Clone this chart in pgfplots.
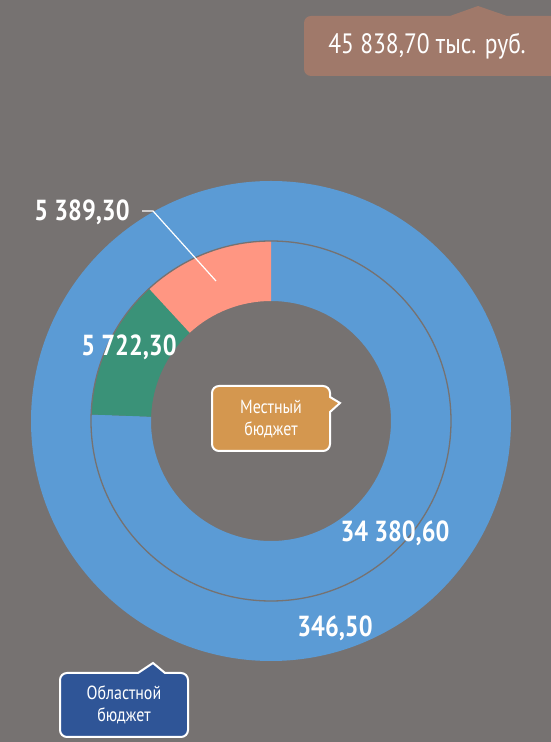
\documentclass[border=0pt]{standalone}
\usepackage{pgfplots}
\pgfplotsset{compat=1.18}
\usepackage{pgfplotstable}
\usepackage{fontspec}
\setmainfont{PT Sans}[FakeStretch=0.84]
\definecolor{bg}{HTML}{767271}
\definecolor{cblue}{HTML}{5B9BD5}
\definecolor{cgreen}{HTML}{3A9278}
\definecolor{csalmon}{HTML}{FF9682}
\definecolor{corange}{HTML}{D4974F}
\definecolor{cdblue}{HTML}{2F5597}
\definecolor{cbrown}{HTML}{A0796A}
\pgfplotstableread{
part value
1 34380.6
2 5722.3
3 5389.3
}\innerring
\pgfplotstableread{
part value
1 346.5
}\outerring
\newcommand{\lbl}[3]{%
  \node[text=white,font=\bfseries\fontsize{29}{31}\selectfont,inner sep=0pt] at (axis cs:#1,#2) {#3};}
\begin{document}
\begin{tikzpicture}
\pgfplotstablegetelem{0}{value}\of\innerring \let\va\pgfplotsretval
\pgfplotstablegetelem{1}{value}\of\innerring \let\vb\pgfplotsretval
\pgfplotstablegetelem{2}{value}\of\innerring \let\vc\pgfplotsretval
\pgfkeys{/pgf/fpu=true,/pgf/fpu/output format=fixed}
\pgfmathsetmacro{\tot}{\va+\vb+\vc}
\pgfmathsetmacro{\aa}{90}
\pgfmathsetmacro{\ab}{\aa-\va/\tot*360}
\pgfmathsetmacro{\ac}{\ab-\vb/\tot*360}
\pgfmathsetmacro{\ad}{\ac-\vc/\tot*360}
\pgfkeys{/pgf/fpu=false}
\begin{axis}[width=551pt,height=742pt,scale only axis,
  xmin=0,xmax=551,ymin=0,ymax=742,hide axis,clip=false]
\fill[bg] (axis cs:0,0) rectangle (axis cs:551,742);
\begin{scope}[shift={(axis cs:271,321)}]
  % outer ring (single value -> full circle)
  \fill[cblue,even odd rule] (0,0) circle[radius=240pt] (0,0) circle[radius=180pt];
  % inner ring
  \fill[cblue] (\aa:180pt) arc[start angle=\aa,end angle=\ab,radius=180pt] -- (\ab:120pt) arc[start angle=\ab,end angle=\aa,radius=120pt] -- cycle;
  \fill[cgreen] (\ab:180pt) arc[start angle=\ab,end angle=\ac,radius=180pt] -- (\ac:120pt) arc[start angle=\ac,end angle=\ab,radius=120pt] -- cycle;
  \fill[csalmon] (\ac:180pt) arc[start angle=\ac,end angle=\ad,radius=180pt] -- (\ad:120pt) arc[start angle=\ad,end angle=\ac,radius=120pt] -- cycle;
  \draw[bg,line width=1.3pt] (0,0) circle[radius=180pt];
\end{scope}
% leader line
\draw[white,line width=1.2pt] (axis cs:142,531) -- (axis cs:153,531) -- (axis cs:216,461);
% value labels
\lbl{82}{530}{5 389,30}
\lbl{129}{395}{5 722,30}
\lbl{395}{209}{34 380,60}
\lbl{335}{114}{346,50}
% callout: Местный бюджет
\draw[white,line width=2pt,fill=corange,rounded corners=7pt]
  (axis cs:330,330) -- (axis cs:330,291) -- (axis cs:212,291) -- (axis cs:212,356) -- (axis cs:330,356) [sharp corners] -- (axis cs:330,345) -- (axis cs:340,339) -- cycle;
\node[white,font=\fontsize{19}{22}\selectfont,align=center] at (axis cs:271,323) {Местный\\бюджет};
% callout: Областной бюджет
\draw[white,line width=2pt,fill=cdblue,rounded corners=7pt]
  (axis cs:165,69) -- (axis cs:188,69) -- (axis cs:188,5) -- (axis cs:60,5) -- (axis cs:60,69) [sharp corners] -- (axis cs:138,69) -- (axis cs:153,79) -- cycle;
\node[white,font=\fontsize{19}{22}\selectfont,align=center] at (axis cs:124,37) {Областной\\бюджет};
% total callout
\fill[cbrown,rounded corners=7pt]
  (axis cs:507,726) [sharp corners] -- (axis cs:551,726) -- (axis cs:551,666) [rounded corners=7pt] -- (axis cs:304,666) -- (axis cs:304,726) [sharp corners] -- (axis cs:450,726) -- (axis cs:478,736) -- cycle;
\node[white,font=\fontsize{28}{30}\selectfont] at (axis cs:427,696) {45 838,70 тыс. руб.};
\end{axis}
\end{tikzpicture}
\end{document}
